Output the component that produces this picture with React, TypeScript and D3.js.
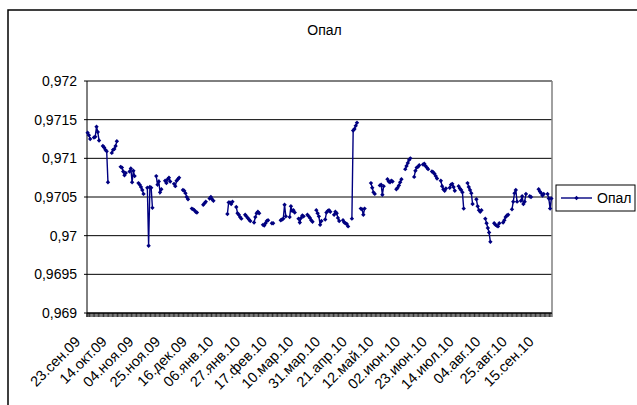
import React, { useEffect, useRef } from "react";
import * as d3 from "d3";

// Опал daily quotes, weekdays only (weekends are left empty, so the line breaks)

const seriesName = "Опал";
const firstDay = new Date(2009, 8, 23); // first category on the axis
const lastDay = new Date(2010, 8, 24); // exclusive
const firstMonday = new Date(2009, 8, 21); // week rows below start here
const labelStep = 21;

const xTickLabels = [
  "23.сен.09", "14.окт.09", "04.ноя.09", "25.ноя.09", "16.дек.09", "06.янв.10",
  "27.янв.10", "17.фев.10", "10.мар.10", "31.мар.10", "21.апр.10", "12.май.10",
  "02.июн.10", "23.июн.10", "14.июл.10", "04.авг.10", "25.авг.10", "15.сен.10",
];

const yTicks = [0.969, 0.9695, 0.97, 0.9705, 0.971, 0.9715, 0.972];

// one row per week, Mon..Fri
const opalWeeks: (number | null)[][] = [
  [null, null, 0.97133, 0.9713, 0.97125],
  [0.97127, 0.97128, 0.97141, 0.97134, 0.97123],
  [0.97116, 0.97114, 0.97111, 0.97109, 0.97069],
  [0.97107, 0.97111, 0.97112, 0.97116, 0.97122],
  [0.97089, 0.97088, 0.97083, 0.97078, 0.97081],
  [0.97083, 0.97087, 0.97069, 0.97084, 0.97077],
  [0.97068, 0.97066, 0.97063, 0.97059, 0.97054],
  [0.97062, 0.96987, 0.97063, 0.97062, 0.97036],
  [0.97077, 0.97066, 0.9707, 0.97056, 0.9706],
  [0.97071, 0.97068, 0.97073, 0.97075, 0.9707],
  [0.97067, 0.97064, 0.97071, 0.97073, 0.97075],
  [0.97059, 0.97058, 0.97055, 0.9705, 0.97047],
  [0.97035, 0.97034, 0.97033, 0.97031, 0.9703],
  [null, null, 0.9704, 0.97042, 0.97044],
  [0.97048, 0.9705, 0.97047, 0.97045, null],
  [null, null, null, null, null],
  [0.97028, 0.97043, 0.97043, 0.97041, 0.97044],
  [0.97037, 0.97029, 0.97027, 0.97024, 0.97022],
  [0.97027, 0.97025, 0.97023, 0.97021, 0.97019],
  [0.97017, 0.97024, 0.97029, 0.97031, 0.97029],
  [0.97014, 0.97013, 0.97016, 0.97019, 0.9702],
  [0.97016, 0.97016, null, null, null],
  [0.9702, 0.97021, 0.97022, 0.9704, 0.97025],
  [0.97024, 0.97038, 0.97032, 0.97033, 0.9703],
  [0.97022, 0.97017, 0.97023, 0.97026, 0.97025],
  [0.97027, 0.97025, 0.97023, 0.9702, 0.97018],
  [0.97033, 0.97029, 0.97025, 0.97014, 0.97019],
  [0.97021, 0.9703, 0.97032, 0.97033, 0.97031],
  [0.97027, 0.97031, 0.97029, 0.97023, 0.97019],
  [0.9702, 0.97017, 0.97016, 0.97015, 0.97012],
  [0.97022, 0.97136, 0.97138, 0.97142, 0.97146],
  [0.97035, 0.97034, 0.97027, 0.97035, null],
  [null, 0.97068, 0.97062, 0.97056, 0.97054],
  [null, 0.97065, 0.97066, 0.97053, 0.97064],
  [0.97073, 0.9707, 0.97069, 0.97071, 0.9707],
  [0.9706, 0.97062, 0.97065, 0.97069, 0.97073],
  [0.97086, 0.9709, 0.97094, 0.97098, 0.971],
  [0.97076, 0.97084, 0.97088, 0.97089, 0.97091],
  [0.97092, 0.97093, 0.9709, 0.97088, 0.97086],
  [0.97083, 0.97082, 0.9708, 0.97077, 0.97074],
  [0.97071, 0.97064, 0.9706, 0.97058, 0.97061],
  [0.97062, 0.97066, 0.97067, 0.97063, 0.97058],
  [0.97064, 0.97061, 0.97059, 0.97056, 0.97035],
  [0.97068, 0.97063, 0.97059, 0.97055, 0.97041],
  [0.97047, 0.97038, 0.97033, 0.97031, 0.97033],
  [0.97022, 0.97016, 0.9701, 0.97004, 0.96992],
  [0.97016, 0.97014, 0.97013, 0.97012, 0.97016],
  [0.97017, 0.9702, 0.97024, 0.97026, 0.97027],
  [0.97034, 0.97044, 0.97055, 0.97059, 0.97044],
  [0.97045, 0.97051, 0.97041, 0.97044, 0.97054],
  [0.97051, 0.9705, null, null, null],
  [0.9706, 0.97057, 0.97055, 0.97052, 0.97054],
  [0.97054, 0.97048, 0.97035, 0.97048],
];

const FONT = "'Liberation Sans', Arial, sans-serif";
const NAVY = "#000080";

function diamond(cx: number, cy: number, r = 2.2) {
  return `M${cx},${cy - r}L${cx + r},${cy}L${cx},${cy + r}L${cx - r},${cy}Z`;
}

export default function App() {
  const svgRef = useRef<SVGSVGElement>(null);

  useEffect(() => {
    const svg = d3.select(svgRef.current);
    svg.selectAll("*").remove();

    const plot = { left: 87, right: 552, top: 81, bottom: 313 };

    const days = d3.timeDay.range(firstDay, lastDay);
    const n = days.length;

    // daily values, null where there is no quote
    const daily: (number | null)[] = new Array(n).fill(null);
    opalWeeks.forEach((week, w) => {
      week.forEach((v, k) => {
        const date = d3.timeDay.offset(firstMonday, w * 7 + k);
        const idx = d3.timeDay.count(firstDay, date);
        if (idx >= 0 && idx < n && v != null) daily[idx] = v;
      });
    });

    const x = d3
      .scaleBand<number>()
      .domain(d3.range(n))
      .range([plot.left, plot.right])
      .padding(0);
    const bw = x.bandwidth();
    const cx = (i: number) => (x(i) ?? 0) + bw / 2;

    const y = d3.scaleLinear().domain([0.969, 0.972]).range([plot.bottom, plot.top]);

    // outer chart frame (runs past the window on the right and bottom)
    svg
      .append("rect")
      .attr("x", 8)
      .attr("y", 10)
      .attr("width", 700)
      .attr("height", 500)
      .attr("fill", "#fff")
      .attr("stroke", "#000")
      .attr("stroke-width", 1.5);

    svg
      .append("text")
      .attr("x", 324.5)
      .attr("y", 35)
      .attr("text-anchor", "middle")
      .attr("font-family", FONT)
      .attr("font-size", 14)
      .text(seriesName);

    // gridlines
    svg
      .append("g")
      .selectAll("line")
      .data(yTicks)
      .join("line")
      .attr("x1", plot.left - 3)
      .attr("x2", plot.right)
      .attr("y1", (d) => y(d))
      .attr("y2", (d) => y(d))
      .attr("stroke", "#000")
      .attr("stroke-width", 1);

    // right edge of plot area
    svg
      .append("line")
      .attr("x1", plot.right)
      .attr("x2", plot.right)
      .attr("y1", plot.top)
      .attr("y2", plot.bottom)
      .attr("stroke", "#808080")
      .attr("stroke-width", 1.5);

    // y axis
    svg
      .append("line")
      .attr("x1", plot.left)
      .attr("x2", plot.left)
      .attr("y1", plot.top)
      .attr("y2", plot.bottom + 4)
      .attr("stroke", "#000");

    svg
      .append("g")
      .selectAll("text")
      .data(yTicks)
      .join("text")
      .attr("x", 77)
      .attr("y", (d) => y(d))
      .attr("dy", "0.35em")
      .attr("text-anchor", "end")
      .attr("font-family", FONT)
      .attr("font-size", 14)
      .text((d) => String(d).replace(".", ","));

    // x axis with a tick between every day
    svg
      .append("line")
      .attr("x1", plot.left)
      .attr("x2", plot.right)
      .attr("y1", plot.bottom)
      .attr("y2", plot.bottom)
      .attr("stroke", "#000");

    svg
      .append("g")
      .selectAll("line")
      .data(d3.range(n + 1))
      .join("line")
      .attr("x1", (i) => plot.left + i * bw)
      .attr("x2", (i) => plot.left + i * bw)
      .attr("y1", plot.bottom)
      .attr("y2", plot.bottom + 4)
      .attr("stroke", "#000")
      .attr("stroke-width", 0.8);

    svg
      .append("g")
      .selectAll("text")
      .data(xTickLabels)
      .join("text")
      .attr("transform", (_, i) => `translate(${cx(i * labelStep) - 6.5},${342.5}) rotate(-45)`)
      .attr("text-anchor", "end")
      .attr("font-family", FONT)
      .attr("font-size", 14.5)
      .text((d) => d);

    // series
    const line = d3
      .line<number | null>()
      .defined((d) => d != null)
      .x((_, i) => cx(i))
      .y((d) => y(d as number));

    svg
      .append("path")
      .datum(daily)
      .attr("fill", "none")
      .attr("stroke", NAVY)
      .attr("stroke-width", 1.4)
      .attr("d", line);

    const pts = daily
      .map((v, i) => ({ v, i }))
      .filter((p) => p.v != null) as { v: number; i: number }[];

    svg
      .append("g")
      .selectAll("path")
      .data(pts)
      .join("path")
      .attr("d", (p) => diamond(cx(p.i), y(p.v)))
      .attr("fill", NAVY);

    // legend
    const lg = svg.append("g");
    lg.append("rect")
      .attr("x", 556)
      .attr("y", 185)
      .attr("width", 79)
      .attr("height", 26)
      .attr("fill", "#fff")
      .attr("stroke", "#000");
    lg.append("line")
      .attr("x1", 561)
      .attr("x2", 592)
      .attr("y1", 198)
      .attr("y2", 198)
      .attr("stroke", NAVY)
      .attr("stroke-width", 1.4);
    lg.append("path").attr("d", diamond(576.5, 198)).attr("fill", NAVY);
    lg.append("text")
      .attr("x", 597)
      .attr("y", 203)
      .attr("font-family", FONT)
      .attr("font-size", 14)
      .text(seriesName);
  }, []);

  return (
    <div style={{ position: "absolute", left: 0, top: 0 }}>
      <svg ref={svgRef} width={637} height={405} style={{ display: "block" }} />
    </div>
  );
}
